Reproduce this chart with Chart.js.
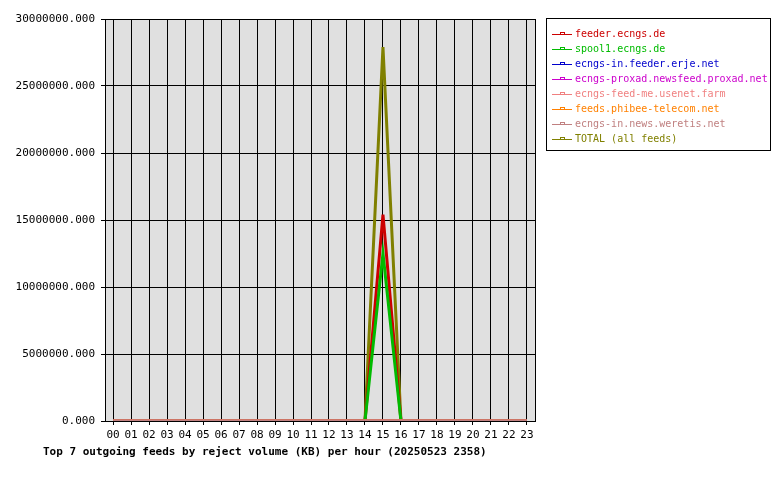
<!DOCTYPE html>
<html>
<head>
<meta charset="utf-8">
<script src="https://cdn.jsdelivr.net/npm/chart.js@4"></script>
<style>
body{margin:0;background:#fff;font-family:"DejaVu Sans Mono",monospace;}
#caja{position:relative;width:780px;height:480px;}
#leyenda{position:absolute;left:546px;top:18px;width:225px;height:133px;border:1px solid #000;box-sizing:border-box;padding:7px 0 0 5px;font-size:10px;}
#leyenda div{height:15px;line-height:15px;white-space:nowrap;}
#leyenda span.l{display:inline-block;width:20px;height:1px;vertical-align:middle;margin-right:3px;position:relative;}
#leyenda span.m{position:absolute;left:8px;top:-2px;width:3px;height:2px;border:1px solid;border-bottom:none;}
#titulo{position:absolute;left:43px;top:445px;font-size:11px;font-weight:bold;}
</style>
</head>
<body>
<div id="caja">
<canvas id="grafico" width="780" height="480"></canvas>
<div id="leyenda"></div>
<div id="titulo">Top 7 outgoing feeds by reject volume (KB) per hour (20250523 2358)</div>
</div>
<script>
//	datos
var Horas=['00','01','02','03','04','05','06','07','08','09','10','11','12','13','14','15','16','17','18','19','20','21','22','23'];
var Feeds=['feeder.ecngs.de','spool1.ecngs.de','ecngs-in.feeder.erje.net','ecngs-proxad.newsfeed.proxad.net','ecngs-feed-me.usenet.farm','feeds.phibee-telecom.net','ecngs-in.news.weretis.net','TOTAL (all feeds)'];
var Colores=['#cc0000','#00bb00','#0000cc','#cc00cc','#f08080','#ff8000','#c08080','#808000'];
var Ceros=[0,0,0,0,0,0,0,0,0,0,0,0,0,0,0,0,0,0,0,0,0,0,0,0];
var vFeeder=[0,0,0,0,0,0,0,0,0,0,0,0,0,0,0,15400000,0,0,0,0,0,0,0,0];
var vSpool1=[0,0,0,0,0,0,0,0,0,0,0,0,0,0,0,12500000,0,0,0,0,0,0,0,0];
var vTotal=[0,0,0,0,0,0,0,0,0,0,0,0,0,0,0,27900000,0,0,0,0,0,0,0,0];
var Valores=[vFeeder,vSpool1,Ceros,Ceros,Ceros,Ceros,Ceros,vTotal];
var TicksY=[0,5000000,10000000,15000000,20000000,25000000,30000000];

//	leyenda en html
var htmlLey='';
for (var i=0;i<Feeds.length;++i)
	htmlLey+='<div style="color:'+Colores[i]+'"><span class="l" style="background:'+Colores[i]+'"><span class="m" style="border-color:'+Colores[i]+'"></span></span>'+Feeds[i]+'</div>';
document.getElementById('leyenda').innerHTML=htmlLey;

//	orden de dibujo, el total encima de todo
var Datasets=[];
var orden=[6,5,4,3,2,1,0,7];
for (var k=0;k<orden.length;++k)
{
	var i=orden[k];
	Datasets.push({
		label:Feeds[i],
		data:Valores[i].map(function(v,h){return {x:h,y:v};}),
		borderColor:Colores[i],
		borderWidth:3,
		pointRadius:0,
		fill:false,
		tension:0
	});
}

var fondo={
	id:'fondo',
	beforeDraw:function(c){
		var a=c.chartArea, ctx=c.ctx;
		ctx.save();
		ctx.fillStyle='#e0e0e0';
		ctx.fillRect(a.left,a.top,a.right-a.left,a.bottom-a.top);
		ctx.restore();
	},
	afterDraw:function(c){
		var a=c.chartArea, ctx=c.ctx;
		ctx.save();
		ctx.strokeStyle='#000';ctx.lineWidth=1;
		ctx.strokeRect(a.left+0.5,a.top+0.5,a.right-a.left,a.bottom-a.top);
		ctx.restore();
	}
};

var fuente={family:'DejaVu Sans Mono',size:11};
new Chart(document.getElementById('grafico').getContext('2d'),{
	type:'line',
	data:{datasets:Datasets},
	plugins:[fondo],
	options:{
		responsive:false,
		animation:false,
		layout:{padding:{top:19,right:245,bottom:34,left:0}},
		plugins:{legend:{display:false},tooltip:{enabled:false}},
		scales:{
			x:{
				type:'linear',min:-0.45,max:23.45,
				afterBuildTicks:function(s){s.ticks=Horas.map(function(h,i){return {value:i};});},
				afterFit:function(s){s.height=25;},
				ticks:{color:'#000',font:fuente,maxRotation:0,autoSkip:false,padding:4,callback:function(v){return Horas[v];}},
				grid:{color:'#000',tickLength:4,drawTicks:true},
				border:{display:false}
			},
			y:{
				min:0,max:30000000,
				afterBuildTicks:function(s){s.ticks=TicksY.map(function(v){return {value:v};});},
				afterFit:function(s){s.width=105;},
				ticks:{color:'#000',font:fuente,padding:6,callback:function(v){return v.toFixed(3);}},
				grid:{color:'#000',tickLength:4},
				border:{display:false}
			}
		}
	}
});
</script>
</body>
</html>
